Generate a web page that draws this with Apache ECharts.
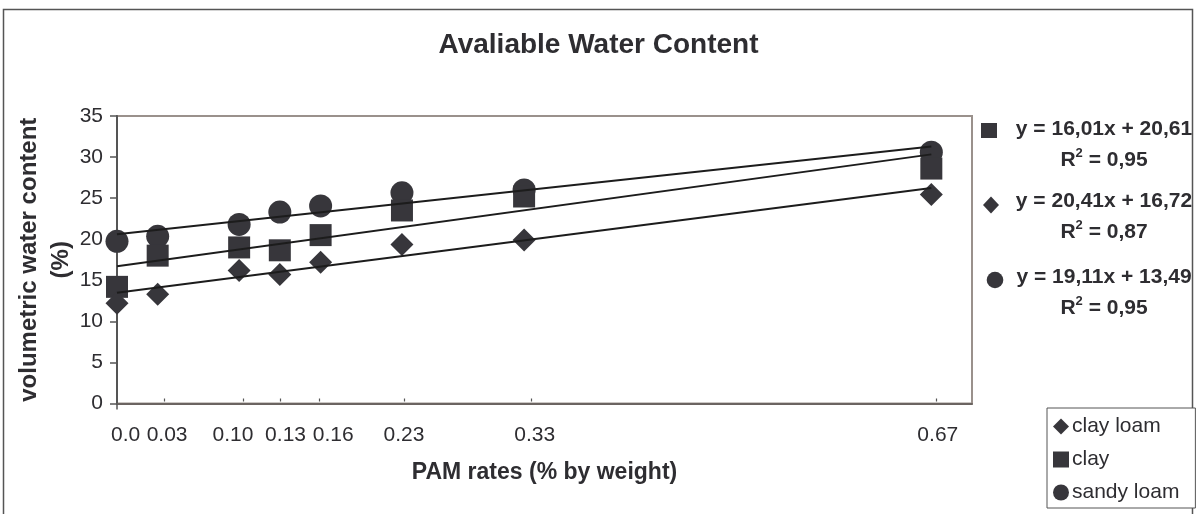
<!DOCTYPE html>
<html><head><meta charset="utf-8">
<script src="https://cdn.jsdelivr.net/npm/echarts@6/dist/echarts.min.js"></script>
<style>html,body{margin:0;padding:0;background:#fff}#c{width:1197px;height:514px}</style>
</head><body><div id="c"></div>
<script>
// ---- data ----
const chartTitle = 'Avaliable Water Content';
const xAxisTitle = 'PAM rates (% by weight)';
const yAxisTitle = ['volumetric water content', '(%)'];
const seriesNames = ['clay loam', 'clay', 'sandy loam'];
const pamRates = [0, 0.0333, 0.1, 0.1333, 0.1667, 0.2333, 0.3333, 0.6667];
const clayLoam = [12.2, 13.3, 16.2, 15.7, 17.2, 19.35, 19.9, 25.45];
const clay = [14.2, 18.0, 19.0, 18.65, 20.5, 23.5, 25.2, 28.6];
const sandyLoam = [19.75, 20.35, 21.8, 23.3, 24.05, 25.65, 26.0, 30.6];
const xTickLabels = ['0.0', '0.03', '0.10', '0.13', '0.16', '0.23', '0.33', '0.67'];
const xTickLabelAt = [0.007, 0.041, 0.095, 0.138, 0.177, 0.235, 0.342, 0.672];
const xMarkAt = [0.0387, 0.1034, 0.134, 0.1654, 0.235, 0.3389, 0.6711];
const yMin = 0, yMax = 35, yStep = 5;
const xMin = 0, xMax = 0.7;
// trend lines (as printed on chart): slope, intercept
const trendSandyLoam = [16.01, 20.61];
const trendClay = [20.41, 16.72];
const trendClayLoam = [19.11, 13.49];
const trendRange = [0, 0.6667];
const equationTexts = ['y = 16,01x + 20,61', 'y = 20,41x + 16,72', 'y = 19,11x + 13,49'];
const r2Texts = ['0,95', '0,87', '0,95'];

// ---- build ----
const ink = '#2e2d31';
const markColor = '#37363b';
function pairs(xs, ys) { return xs.map((x, i) => [x, ys[i]]); }
function trend(c) { return trendRange.map(x => [x, c[0] * x + c[1]]); }
function nearestLabel(v) {
  let best = 0;
  xTickLabelAt.forEach((p, i) => { if (Math.abs(p - v) < Math.abs(xTickLabelAt[best] - v)) best = i; });
  return xTickLabels[best];
}

const chart = echarts.init(document.getElementById('c'), null, { renderer: 'canvas' });
const font = 'Liberation Sans, Arial, sans-serif';

const eqY = [129, 201, 277];
const r2Y = [159, 231, 307];
const eqGraphics = [];
equationTexts.forEach((t, i) => {
  eqGraphics.push({ type: 'text', x: 1104, y: eqY[i], style: { text: t, font: 'bold 21px ' + font, fill: ink, textAlign: 'center', textVerticalAlign: 'middle' } });
  eqGraphics.push({ type: 'text', x: 1104, y: r2Y[i], style: {
    text: '{a|R}{s|2}{a| = ' + r2Texts[i] + '}', textAlign: 'center', textVerticalAlign: 'middle',
    rich: { a: { font: 'bold 21px ' + font, fill: ink, lineHeight: 24, verticalAlign: 'bottom' }, s: { font: 'bold 13px ' + font, fill: ink, lineHeight: 24, verticalAlign: 'top' } }
  } });
});
// legend-key markers beside equations
eqGraphics.push({ type: 'rect', shape: { x: 981, y: 123, width: 16, height: 15 }, style: { fill: markColor } });
eqGraphics.push({ type: 'polygon', shape: { points: [[991, 196.5], [999, 205], [991, 213.5], [983, 205]] }, style: { fill: markColor } });
eqGraphics.push({ type: 'circle', shape: { cx: 995, cy: 280, r: 8.3 }, style: { fill: markColor } });
// outer chart frame
eqGraphics.push({ type: 'rect', shape: { x: 3.5, y: 9.5, width: 1189, height: 520 }, style: { fill: 'none', stroke: '#555', lineWidth: 1.5 }, z: -1 });

const option = {
  animation: false,
  backgroundColor: '#fff',
  textStyle: { fontFamily: font },
  title: { text: chartTitle, left: 'center', top: 31, padding: 0, textStyle: { fontSize: 28, fontWeight: 'bold', color: ink, fontFamily: font } },
  grid: { left: 117, top: 116, right: 225, bottom: 110.5, show: true, borderColor: '#9a918c', borderWidth: 2, backgroundColor: 'transparent', outerBoundsMode: 'none', containLabel: false },
  legend: {
    orient: 'vertical', left: 1047, top: 408, padding: [8, 16, 5, 6], itemGap: 12,
    itemWidth: 16, itemHeight: 16, borderColor: '#555', borderWidth: 1, backgroundColor: '#fff',
    textStyle: { fontSize: 21, color: ink, fontFamily: font, padding: [0, 0, 0, -2] },
    data: [
      { name: seriesNames[0], icon: 'diamond' },
      { name: seriesNames[1], icon: 'rect' },
      { name: seriesNames[2], icon: 'circle' }
    ]
  },
  xAxis: [{
    type: 'value', min: xMin, max: xMax, position: 'bottom',
    name: xAxisTitle, nameLocation: 'middle', nameGap: 58, nameMoveOverlap: false,
    nameTextStyle: { fontSize: 23, fontWeight: 'bold', color: ink, fontFamily: font },
    axisLine: { show: true, lineStyle: { color: '#6b6461', width: 2 } },
    axisTick: { show: true, inside: false, length: 6, customValues: [0], lineStyle: { color: '#555', width: 1.5 } },
    axisLabel: { show: true, customValues: xTickLabelAt, formatter: v => nearestLabel(v), fontSize: 21, color: ink, margin: 21, fontFamily: font },
    splitLine: { show: false }
  }, {
    type: 'value', min: xMin, max: xMax, position: 'bottom', offset: -2,
    axisLine: { show: false },
    axisTick: { show: true, inside: true, length: 3, customValues: xMarkAt, lineStyle: { color: '#555', width: 1.2 } },
    axisLabel: { show: false }, splitLine: { show: false }
  }],
  yAxis: {
    type: 'value', min: yMin, max: yMax, interval: yStep,
    name: yAxisTitle.join('\n'), nameLocation: 'middle', nameRotate: 90, nameGap: 40, nameMoveOverlap: false,
    nameTextStyle: { fontSize: 24, fontWeight: 'bold', color: ink, lineHeight: 32, fontFamily: font },
    axisLine: { show: true, lineStyle: { color: '#555', width: 2 } },
    axisTick: { show: true, inside: false, length: 7, lineStyle: { color: '#555', width: 1.5 } },
    axisLabel: { fontSize: 21, color: ink, margin: 14, fontFamily: font },
    splitLine: { show: false }
  },
  graphic: eqGraphics,
  series: [
    { name: seriesNames[2], type: 'scatter', symbol: 'circle', symbolSize: 23, itemStyle: { color: markColor, opacity: 1 }, data: pairs(pamRates, sandyLoam), z: 2 },
    { name: seriesNames[1], type: 'scatter', symbol: 'rect', symbolSize: 22, itemStyle: { color: markColor, opacity: 1 }, data: pairs(pamRates, clay), z: 2 },
    { name: seriesNames[0], type: 'scatter', symbol: 'diamond', symbolSize: 23, itemStyle: { color: markColor, opacity: 1 }, data: pairs(pamRates, clayLoam), z: 2 },
    { name: 'trend sandy loam', type: 'line', showSymbol: false, symbol: 'none', lineStyle: { color: '#1c1c1c', width: 2 }, data: trend(trendSandyLoam), z: 3 },
    { name: 'trend clay', type: 'line', showSymbol: false, symbol: 'none', lineStyle: { color: '#1c1c1c', width: 2 }, data: trend(trendClay), z: 3 },
    { name: 'trend clay loam', type: 'line', showSymbol: false, symbol: 'none', lineStyle: { color: '#1c1c1c', width: 2 }, data: trend(trendClayLoam), z: 3 }
  ]
};
chart.setOption(option);
</script>
</body></html>
